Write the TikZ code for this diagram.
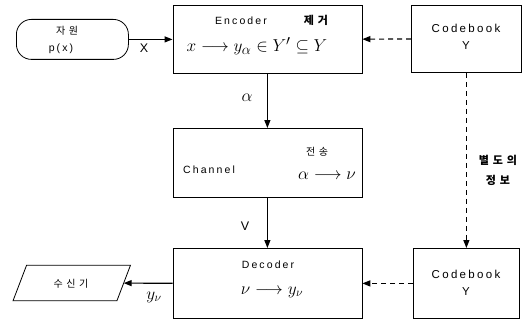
\documentclass[tikz,border=0pt]{standalone}
\usepackage{amssymb}
\usepackage{fontspec}
\setmainfont{Liberation Sans}
\newfontfamily\lab{Liberation Sans}[LetterSpace=20]
\newfontfamily\kr{Noto Sans CJK KR}[LetterSpace=35]
\usetikzlibrary{arrows.meta}
\begin{document}
\begin{tikzpicture}[x=1pt,y=-1pt,
  box/.style={draw,line width=0.8pt,inner sep=0pt,anchor=north west},
  lab/.style={inner sep=0pt,font=\lab\fontsize{10.5}{12}\selectfont},
  cbt/.style={inner sep=0pt,font=\lab\fontsize{11.5}{13}\selectfont},
  krt/.style={inner sep=0pt,font=\kr\fontsize{10}{12}\selectfont},
  krb/.style={inner sep=0pt,font=\kr\bfseries\fontsize{11}{13}\selectfont},
  mth/.style={inner sep=0pt,font=\fontsize{18}{22}\selectfont},
  big/.style={inner sep=0pt,font=\fontsize{12.5}{14}\selectfont},
  arr/.style={line width=1.2pt,-{Triangle[length=8pt,width=6pt]}},
  darr/.style={line width=1.2pt,dash pattern=on 5pt off 4pt,-{Triangle[length=8pt,width=6pt]}}]
\useasboundingbox (0,0) rectangle (526,326);
% boxes
\node[box,rounded corners=15pt,minimum width=112pt,minimum height=40pt] (src) at (16,19) {};
\node[box,minimum width=189pt,minimum height=68pt] (enc) at (172.5,5) {};
\node[box,minimum width=110pt,minimum height=67pt] (cb1) at (411,5) {};
\node[box,minimum width=189pt,minimum height=69pt] (ch) at (172.5,128) {};
\node[box,minimum width=189pt,minimum height=70pt] (dec) at (172.5,248) {};
\node[box,minimum width=106pt,minimum height=70pt] (cb2) at (413,248) {};
\node[inner sep=0pt,minimum width=103.5pt,minimum height=35pt] (recv) at (71.75,283) {};
\draw[line width=0.8pt] ([xshift=6.75pt]recv.north west) -- ([xshift=6.75pt]recv.north east)
  -- ([xshift=-6.75pt]recv.south east) -- ([xshift=-6.75pt]recv.south west) -- cycle;
% texts
\node[krt] (srcA) at (67,31) {자원};
\node[lab] (srcB) at (61,49) {p(x)};
\node[lab] (encA) at (241,21) {Encoder};
\node[krb] (encB) at (316,20) {제거};
\node[mth,font=\fontsize{19}{22}\selectfont] (encC) at (257,46) {$x\longrightarrow y_{\alpha}\in Y'\subseteq Y$};
\node[cbt] (cb1A) at (466,28) {Codebook};
\node[cbt] (cb1B) at (466,46) {Y};
\node[lab] (chA) at (209,170) {Channel};
\node[krt] (chB) at (317,152) {전송};
\node[mth] (chC) at (327,176) {$\alpha\longrightarrow\nu$};
\node[lab] (decA) at (268,265) {Decoder};
\node[mth] (decC) at (272,292) {$\nu\longrightarrow y_{\nu}$};
\node[cbt] (cb2A) at (466,274) {Codebook};
\node[cbt] (cb2B) at (466,292) {Y};
\node[krb] (side1) at (498,160) {별도의};
\node[krb] (side2) at (498,180) {정보};
\node[krt] (recvA) at (71,284) {수신기};
% connectors
\draw[arr] (src) -- (enc) node[big,pos=0.35,below=4pt] (lx) {X};
\draw[arr] (enc) -- (ch);
\node[mth] (la) at (247,98) {$\alpha$};
\draw[arr] (ch) -- (dec);
\node[big] (lv) at (245,226) {V};
\draw[arr] (dec) -- (recv);
\node[mth] (ly) at (154,297) {$y_{\nu}$};
\draw[darr] (cb1) -- (enc);
\draw[darr] (cb1) -- (cb2);
\draw[darr] (cb2) -- (dec);
\end{tikzpicture}
\end{document}
